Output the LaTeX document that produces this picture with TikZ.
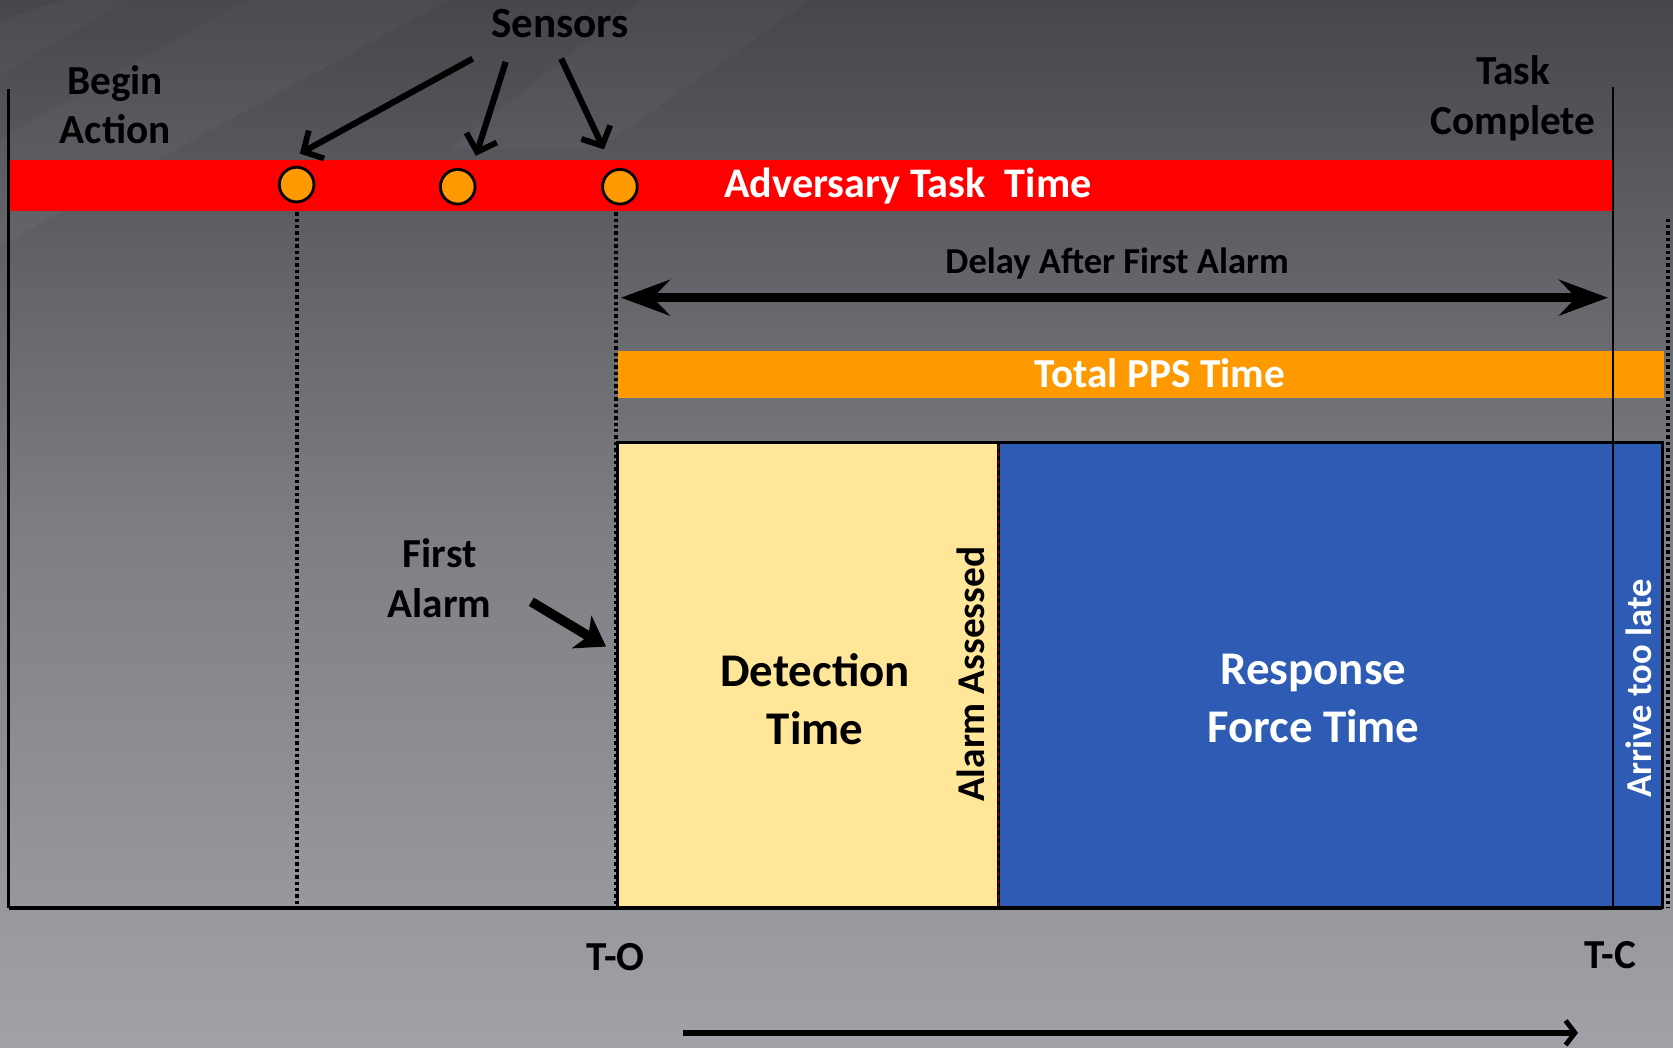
\documentclass[tikz,border=0pt]{standalone}
\usepackage{fontspec}
\setmainfont{Carlito}
\usetikzlibrary{arrows.meta}

\definecolor{bgtop}{RGB}{70,71,76}
\definecolor{bgmid}{RGB}{124,126,132}
\definecolor{bgbot}{RGB}{160,162,168}
\definecolor{taskred}{RGB}{255,0,0}
\definecolor{ppsorange}{RGB}{255,153,0}
\definecolor{detyellow}{RGB}{255,230,153}
\definecolor{respblue}{RGB}{46,92,180}

\tikzset{
  lbl/.style={font=\bfseries\fontsize{22}{26.5}\selectfont, align=center, inner sep=0pt, text=black},
  bigwhite/.style={font=\bfseries\fontsize{25}{31}\selectfont, align=center, inner sep=0pt, text=white},
  bigblack/.style={font=\bfseries\fontsize{25}{31}\selectfont, align=center, inner sep=0pt, text=black},
  sensor/.style={circle, draw=black, line width=1.5pt, fill=ppsorange, minimum size=18.5pt, inner sep=0pt},
  timeline/.style={draw=black, line width=1.2pt},
  marker/.style={draw=black, line width=2.1pt, dash pattern=on 1.8pt off 1.6pt},
  pointer/.style={draw=black, line width=3.3pt, -{Straight Barb[length=8pt,width=17pt,line width=3.1pt]}},
  span/.style={draw=black, line width=4.8pt, {Stealth[length=26pt,width=19pt,inset=9pt]}-{Stealth[length=26pt,width=19pt,inset=9pt]}},
  alarmptr/.style={draw=black, line width=5.2pt, -{Stealth[length=15pt,width=20pt,inset=4pt]}},
  timeptr/.style={draw=black, line width=3.4pt, -{Straight Barb[length=5pt,width=13pt,line width=2.6pt]}},
  boxedge/.style={draw=black, line width=1.5pt}
}

\begin{document}
\begin{tikzpicture}[x=0.02cm, y=-0.02cm]
  % background
  \shade[top color=bgtop, bottom color=bgbot, middle color=bgmid] (0,0) rectangle (1568,982);
  \useasboundingbox (0,0) rectangle (1568,982);
  % faint diagonal streaks in the upper left
  \fill[white, opacity=0.03] (0,20) -- (60,0) -- (420,0) -- (0,230) -- cycle;
  \fill[black, opacity=0.04] (120,0) -- (230,0) -- (0,130) -- (0,70) -- cycle;
  \fill[white, opacity=0.025] (600,0) -- (760,0) -- (560,140) -- (420,140) -- cycle;

  % adversary task bar
  \fill[taskred] (8,150) rectangle (1512,198);
  \node[font=\bfseries\fontsize{22.5}{27}\selectfont, text=white, inner sep=0pt] (task) at (851,174) {Adversary Task \ Time};

  % total PPS bar
  \fill[ppsorange] (579,329) rectangle (1560,373);
  \node[font=\bfseries\fontsize{22}{26}\selectfont, text=white, inner sep=0pt] (pps) at (1087,350) {Total PPS Time};

  % detection and response boxes
  \path[fill=detyellow, boxedge] (579,415) rectangle (936,851);
  \path[fill=respblue, boxedge] (936,415) rectangle (1558,851);
  \draw[black, line width=1.6pt] (936,415) -- (936,851);
  \draw[red!60!black, line width=0.4pt, dash pattern=on 2pt off 2pt] (936,417) -- (936,849);

  \node[bigblack] (det) at (764,655) {Detection\\Time};
  \node[bigwhite] (resp) at (1231,655) {Response\\Force Time};
  \node[font=\bfseries\fontsize{21}{25}\selectfont, text=black, inner sep=0pt, rotate=90] (assess) at (910,632) {Alarm Assessed};
  \node[font=\bfseries\fontsize{19.5}{24}\selectfont, text=white, inner sep=0pt, rotate=90] (late) at (1536,645) {Arrive too late};

  % time axes
  \draw[timeline] (8,83) -- (8,851);
  \draw[black, line width=1.8pt] (8,851) -- (1558,851);
  \draw[timeline] (1512,82) -- (1512,851);

  % dotted markers
  \draw[marker] (278,199) -- (278,851);
  \draw[marker] (577,199) -- (577,851);
  \draw[marker] (1563,205) -- (1563,851);

  % sensors
  \node[sensor] (s1) at (278,173) {};
  \node[sensor] (s2) at (429,175) {};
  \node[sensor] (s3) at (581,175) {};

  \node[font=\bfseries\fontsize{23}{27}\selectfont, inner sep=0pt] (sens) at (525,22) {Sensors};
  \coordinate (a1s) at (443,55);
  \coordinate (a1e) at (281,144);
  \coordinate (a2s) at (474,58);
  \coordinate (a2e) at (446,146);
  \coordinate (a3s) at (526,55);
  \coordinate (a3e) at (566,140);
  \draw[pointer] (a1s) -- (a1e);
  \draw[pointer] (a2s) -- (a2e);
  \draw[pointer] (a3s) -- (a3e);

  % event labels
  \node[lbl] (begin) at (108,98) {Begin\\Action};
  \node[lbl] (done) at (1418,92) {Task\\Complete};
  \node[lbl] (first) at (412,542) {First\\Alarm};
  \coordinate (fa1) at (498,564);
  \coordinate (fa2) at (568,606);
  \draw[alarmptr] (fa1) -- (fa2);

  % delay after first alarm
  \node[font=\bfseries\fontsize{19.5}{24}\selectfont, inner sep=0pt] (delay) at (1047,247) {Delay After First Alarm};
  \coordinate (d1) at (582,279);
  \coordinate (d2) at (1507,279);
  \draw[span] (d1) -- (d2);

  % time marks
  \node[font=\bfseries\fontsize{22}{26}\selectfont, inner sep=0pt] (to) at (577,897) {T-O};
  \node[font=\bfseries\fontsize{22}{26}\selectfont, inner sep=0pt] (tc) at (1509,895) {T-C};

  % direction of time
  \coordinate (t1) at (640,968);
  \coordinate (t2) at (1479,968);
  \draw[timeptr] (t1) -- (t2);
\end{tikzpicture}
\end{document}
